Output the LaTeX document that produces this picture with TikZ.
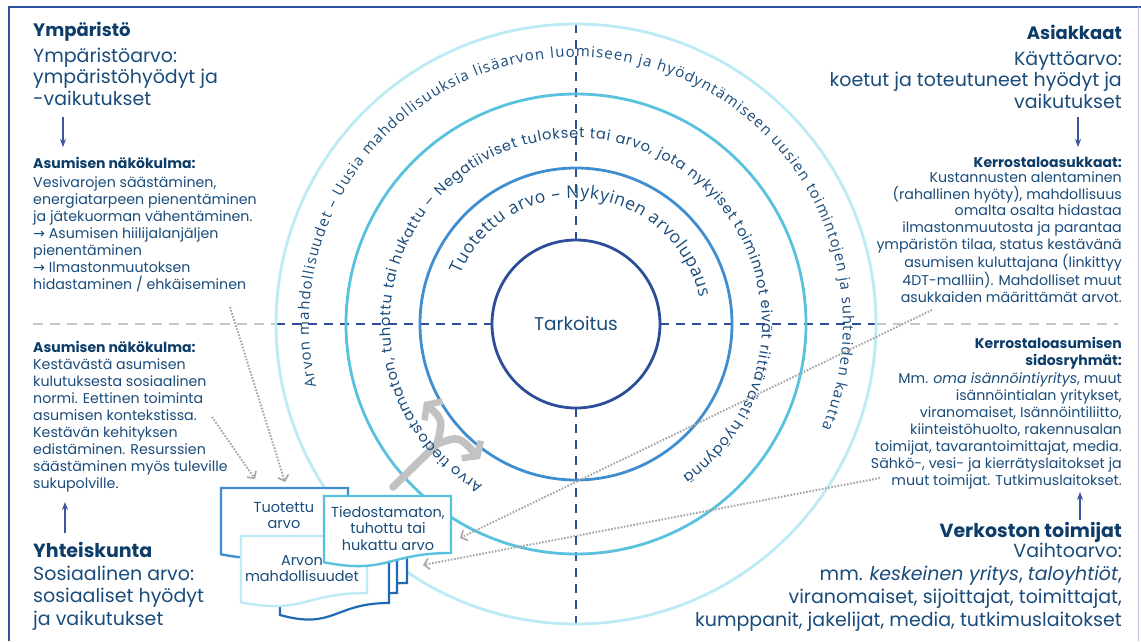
\documentclass[tikz,border=0pt]{standalone}
\usepackage{fontspec}
\setmainfont{Poppins}
\newfontfamily\osans{Open Sans}
\newfontfamily\djv{DejaVu Sans}
\usetikzlibrary{arrows.meta,decorations.text}
\definecolor{navy}{HTML}{0D3C69}
\definecolor{txt}{HTML}{1A4C7B}
\definecolor{frameblue}{HTML}{2F52A0}
\definecolor{framelight}{HTML}{B9C2E2}
\definecolor{ringA}{HTML}{2C4E98}
\definecolor{ringB}{HTML}{3F8ED0}
\definecolor{ringC}{HTML}{58C2DE}
\definecolor{ringD}{HTML}{BCEBF3}
\definecolor{dashgray}{HTML}{C6C6C6}
\definecolor{dotgray}{HTML}{A6A6A6}
\definecolor{docdark}{HTML}{1F6AB2}
\definecolor{arrowblue}{HTML}{3A56A0}
\definecolor{splitgray}{HTML}{C2C2C2}
\newcommand{\arrw}{{\djv →}}
\begin{document}
\begin{tikzpicture}[x=1pt,y=-1pt,
  ring/.style={line width=2.8pt},
  bluedash/.style={draw=ringA, line width=2pt, dash pattern=on 9pt off 7pt},
  graydash/.style={draw=dashgray, line width=2pt, dash pattern=on 10pt off 7pt},
  dotarrow/.style={draw=dotgray, line width=2pt, dash pattern=on 1.6pt off 1.6pt,
    -{Straight Barb[length=5pt,width=11pt,line width=1.6pt]}},
  vertarrow/.style={draw=arrowblue, line width=1.3pt, -{Stealth[length=8pt,width=6pt]}},
  splitarrow/.style={draw=splitgray, line width=7.5pt, line cap=round,
    -{Straight Barb[length=9pt,width=26pt,line width=6.5pt]}},
  head/.style={inner sep=0pt, text=navy, font=\fontsize{18}{21}\selectfont\bfseries},
  headbig/.style={inner sep=0pt, text=navy, font=\fontsize{19}{22.5}\selectfont\bfseries},
  big/.style={inner sep=0pt, text=txt, font=\fontsize{19}{21.5}\selectfont},
  bigger/.style={inner sep=0pt, text=txt, font=\fontsize{19}{22.7}\selectfont},
  smallhead/.style={inner sep=0pt, text=navy, font=\fontsize{14}{17}\selectfont\bfseries},
  small/.style={inner sep=0pt, text=txt, font=\fontsize{14.2}{17}\selectfont},
  smallr/.style={inner sep=0pt, text=txt, font=\fontsize{14.2}{16.7}\selectfont},
  doctext/.style={inner sep=0pt, text=txt, align=center, font=\fontsize{14.5}{16.8}\selectfont},
  docfront/.style={line width=2.4pt, fill=white},
  ringtext/.style={decorate, decoration={text along path, text align={fit to path}, text color=txt}}
]
\useasboundingbox (0,0) rectangle (1141,641);
\fill[white] (0,0) rectangle (1141,641);

% frame
\draw[frameblue, line width=2.6pt] (9,641) -- (9,7) -- (1141,7);
\draw[framelight, line width=1pt] (1138,7) -- (1138,641);

% centre
\coordinate (C) at (576,324);

% dashed cross
\draw[graydash] (33,324) -- (276,324);
\draw[graydash] (876,324) -- (1118,324);
\draw[bluedash] (276,324) -- (492,324);
\draw[bluedash] (660,324) -- (876,324);
\draw[bluedash] (576,24) -- (576,240);
\draw[bluedash] (576,408) -- (576,624);

% rings
\draw[ring, ringD] (C) circle[radius=300];
\draw[ring, ringC] (C) circle[radius=230];
\draw[ring, ringB] (C) circle[radius=156];
\draw[ring, ringA] (C) circle[radius=84];
\node[inner sep=0pt, text=txt, font=\fontsize{18.5}{20}\selectfont] (purpose) at (C) {Tarkoitus};

% split arrow
\coordinate (spS) at (393,487);
\coordinate (spJ) at (437,444);
\coordinate (spL) at (424,402);
\coordinate (spR) at (480,459);
\draw[splitarrow] (spS) -- (spJ) .. controls (443,420) .. (spL);
\draw[splitarrow] (spJ) .. controls (459,436) .. (spR);

% ring texts
\path[ringtext, decoration={text={|\osans\fontsize{15}{18}\selectfont|Arvon mahdollisuudet – Uusia mahdollisuuksia lisäarvon luomiseen ja hyödyntämiseen uusien toimintojen ja suhteiden kautta}}]
  ([shift={(-193.5:267)}]C) arc[start angle=-193.5, end angle=23, radius=267];
\path[ringtext, decoration={text={|\fontsize{14.5}{18}\selectfont|Arvo tiedostamaton, tuhottu tai hukattu – Negatiiviset tulokset tai arvo, jota nykyiset toiminnot eivät riittävästi hyödynnä}}]
  ([shift={(-240:186)}]C) arc[start angle=-240, end angle=55, radius=186];
\path[ringtext, decoration={text={|\osans\fontsize{17.5}{20}\selectfont|Tuotettu arvo – Nykyinen arvolupaus}}]
  ([shift={(-157:126)}]C) arc[start angle=-157, end angle=-12, radius=126];

% document stack
\draw[docdark, docfront, line width=2.2pt] (298,520) -- (407,520) -- (407,583) .. controls (352,583) and (352,610) .. (298,595) -- cycle;
\draw[docdark, docfront, line width=2.2pt] (289,528) -- (397,528) -- (397,593) .. controls (343,593) and (343,620) .. (289,605) -- cycle;
\draw[docdark, docfront, line width=2.2pt] (280,536) -- (389,536) -- (389,603) .. controls (334,603) and (334,630) .. (280,615) -- cycle;
\draw[ringB, docfront] (221,488) -- (348,488) -- (348,545) .. controls (284.5,545) and (284.5,566.6) .. (221,554.3) -- cycle;
\draw[ringD, docfront] (241,536) -- (367,536) -- (367,593) .. controls (304,593) and (304,614.6) .. (241,602.3) -- cycle;
\draw[ringC, docfront] (324,496) -- (451,496) -- (451,553) .. controls (387.5,553) and (387.5,574.6) .. (324,562.3) -- cycle;
% (multi-line nodes: base anchor = last line's baseline)
\node[doctext, anchor=base] (docprod) at (284,528.8) {Tuotettu\\arvo};
\node[doctext, anchor=base] (docopp) at (302,581.8) {Arvon\\mahdollisuudet};
\node[doctext, anchor=base] (doclost) at (388,550.6) {Tiedostamaton,\\tuhottu tai\\hukattu arvo};

% top left
\node[head, anchor=base west] (envh) at (33,36) {Ympäristö};
\node[big, anchor=base west, align=left] (envv) at (33,105) {Ympäristöarvo:\\ympäristöhyödyt ja\\-vaikutukset};
\coordinate (envA1) at (63,117);
\coordinate (envA2) at (63,147);
\draw[vertarrow] (envA1) -- (envA2);
\node[smallhead, anchor=base west] (envnh) at (33,168) {Asumisen näkökulma:};
\node[small, anchor=base west, align=left] (envb) at (33,289) {Vesivarojen säästäminen,\\energiatarpeen pienentäminen\\ja jätekuorman vähentäminen.\\\arrw\ Asumisen hiilijalanjäljen\\pienentäminen\\\arrw\ Ilmastonmuutoksen\\hidastaminen / ehkäiseminen};

% bottom left
\node[smallhead, anchor=base west] (socnh) at (33,352) {Asumisen näkökulma:};
\node[small, anchor=base west, align=left] (socb) at (33,488) {Kestävästä asumisen\\kulutuksesta sosiaalinen\\normi. Eettinen toiminta\\asumisen kontekstissa.\\Kestävän kehityksen\\edistäminen. Resurssien\\säästäminen myös tuleville\\sukupolville.};
\coordinate (socA1) at (65,533);
\coordinate (socA2) at (65,502);
\draw[vertarrow] (socA1) -- (socA2);
\node[headbig, anchor=base west] (soch) at (33,557) {Yhteiskunta};
\node[bigger, anchor=base west, align=left] (socv) at (33,625.4) {Sosiaalinen arvo:\\sosiaaliset hyödyt\\ja vaikutukset};

% top right
\node[head, anchor=base east] (cush) at (1122,39) {Asiakkaat};
\node[big, anchor=base east, align=right] (cusv) at (1122,108) {Käyttöarvo:\\koetut ja toteutuneet hyödyt ja\\vaikutukset};
\coordinate (cusA1) at (1078,117);
\coordinate (cusA2) at (1078,147);
\draw[vertarrow] (cusA1) -- (cusA2);
\node[smallhead, anchor=base east] (cusnh) at (1122,167) {Kerrostaloasukkaat:};
\node[smallr, anchor=base east, align=right] (cusb) at (1122,302) {Kustannusten alentaminen\\(rahallinen hyöty), mahdollisuus\\omalta osalta hidastaa\\ilmastonmuutosta ja parantaa\\ympäristön tilaa, status kestävänä\\asumisen kuluttajana (linkittyy\\4DT-malliin). Mahdolliset muut\\asukkaiden määrittämät arvot.};

% bottom right
\node[smallhead, anchor=base east, align=right] (netnh) at (1122,365) {Kerrostaloasumisen\\sidosryhmät:};
\node[small, anchor=base east, align=right] (netb) at (1122,485) {Mm. \textit{oma isännöintiyritys}, muut\\isännöintialan yritykset,\\viranomaiset, Isännöintiliitto,\\kiinteistöhuolto, rakennusalan\\toimijat, tavarantoimittajat, media.\\Sähkö-, vesi- ja kierrätyslaitokset ja\\muut toimijat. Tutkimuslaitokset.};
\coordinate (netA1) at (1080,520);
\coordinate (netA2) at (1080,492);
\draw[vertarrow] (netA1) -- (netA2);
\node[headbig, anchor=base east] (neth) at (1122,537) {Verkoston toimijat};
\node[bigger, anchor=base east, align=right] (netv) at (1122,626) {Vaihtoarvo:\\mm. \textit{keskeinen yritys}, \textit{taloyhtiöt},\\viranomaiset, sijoittajat, toimittajat,\\kumppanit, jakelijat, media, tutkimuslaitokset};

% dotted connectors
\coordinate (d1s) at (230,307);
\coordinate (d1e) at (285,482);
\coordinate (d2s) at (212,417);
\coordinate (d2e) at (255,479);
\coordinate (d3s) at (932,310);
\coordinate (d3e) at (460,538);
\coordinate (d4s) at (880,478);
\coordinate (d4e) at (423,565);
\draw[dotarrow] (d1s) -- (d1e);
\draw[dotarrow] (d2s) -- (d2e);
\draw[dotarrow] (d3s) -- (d3e);
\draw[dotarrow] (d4s) -- (d4e);
\end{tikzpicture}
\end{document}
